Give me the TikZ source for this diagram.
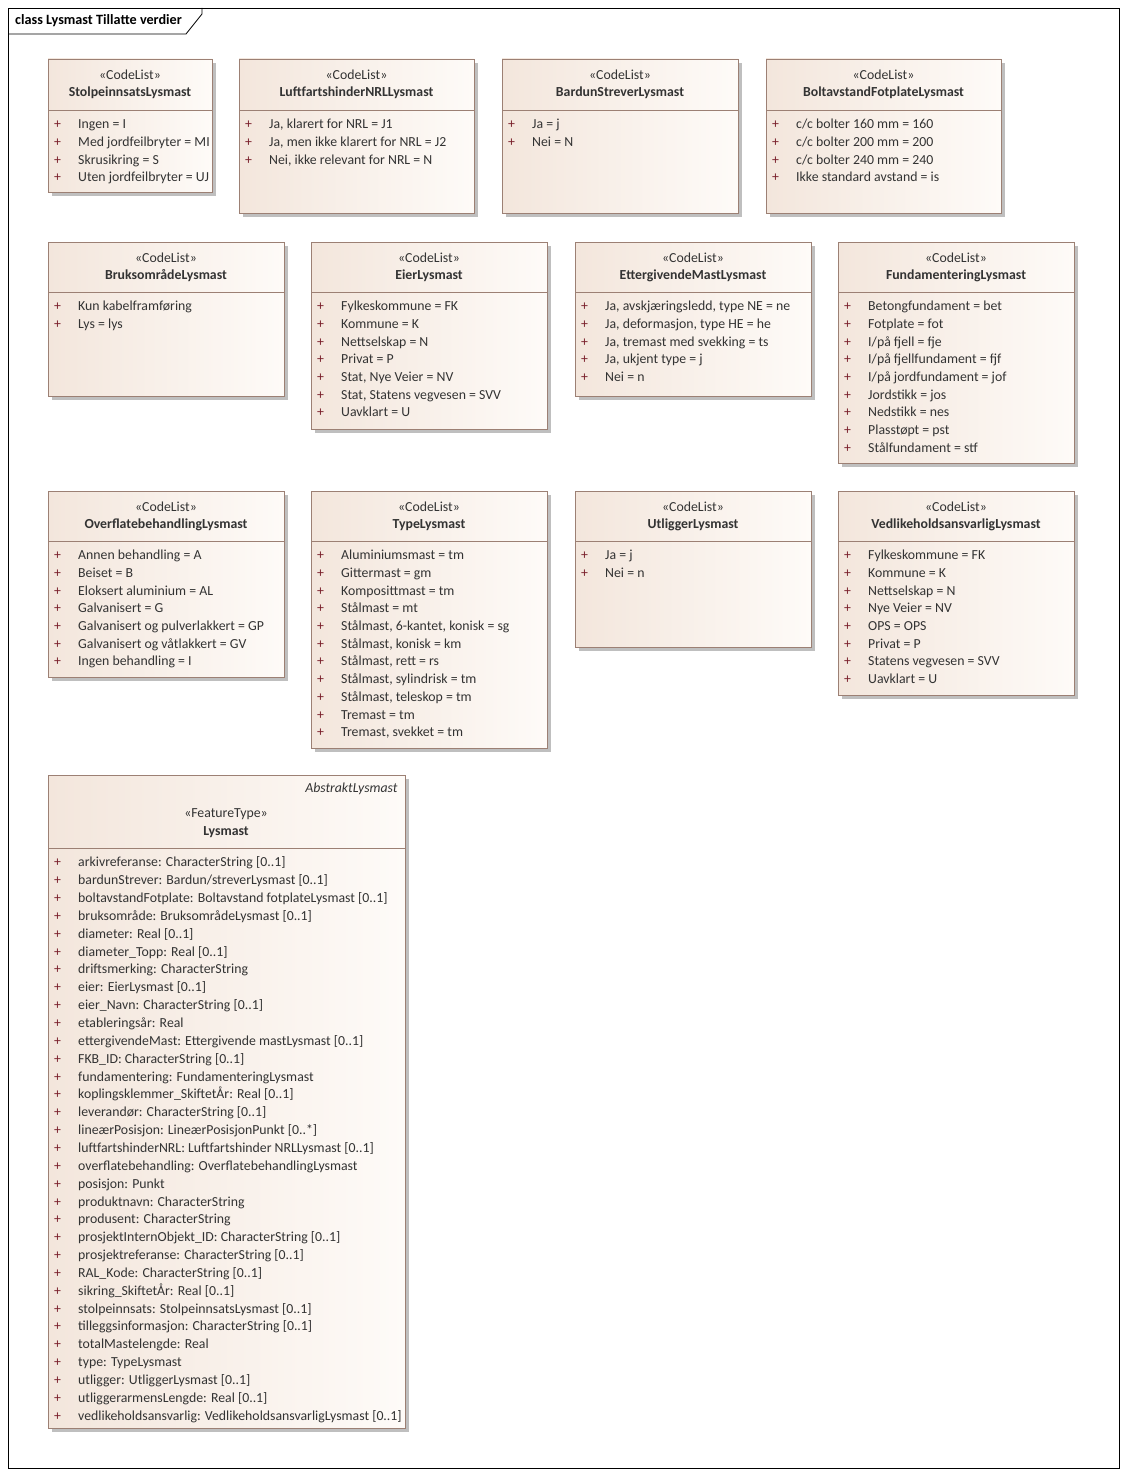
\documentclass[tikz,border=0pt]{standalone}
\usepackage{fontspec}
\setmainfont{Carlito}
\definecolor{bdr}{HTML}{9C8074}
\definecolor{fillA}{HTML}{F3E6DC}
\definecolor{fillB}{HTML}{FEFBF8}
\definecolor{txt}{HTML}{333333}
\definecolor{plus}{HTML}{7A1F2B}
\newcommand{\fs}{\fontsize{13.8}{16}\selectfont}
\newcommand{\cls}[8]{%
 \fill[black!25] (#1+4,#2+4) rectangle (#1+#3+4,#2+#4+4);
 \path[left color=fillA,right color=fillB,draw=bdr,line width=0.9pt] (#1,#2) rectangle (#1+#3,#2+#4);
 \node[name=#7] at (#1+#3/2,#2+#4/2) {};
 \draw[bdr,line width=0.9pt] (#1,#2+#8) -- (#1+#3,#2+#8);
 \node[txt,font=\fs] at (#1+#3/2,#2+16) {«CodeList»};
 \node[txt,font=\fs\bfseries] at (#1+#3/2,#2+34) {#5};
 \foreach \t [count=\i] in {#6}{
   \node[plus,anchor=base west,font=\fs,inner sep=0] at (#1+6,#2+#8+17.7*\i+1) {+};
   \node[txt,anchor=base west,font=\fs,inner sep=0] at (#1+30,#2+#8+17.7*\i+1) {\t};
 }}
\begin{document}
\begin{tikzpicture}[x=1pt,y=-1pt]
\useasboundingbox[fill=white] (0,0) rectangle (1127,1477);
\draw[line width=0.8pt] (8,8) rectangle (1119,1468);
\draw[line width=0.8pt] (8,34) -- (186,34) -- (202,14) -- (202,8);
\node[anchor=base west,font=\fontsize{14.2}{16}\selectfont\bfseries,inner sep=0] (ttl) at (15,25) {class Lysmast Tillatte verdier};

\cls{48}{59}{164}{133}{StolpeinnsatsLysmast}{{Ingen = I},{Med jordfeilbryter = MI},{Skrusikring = S},{Uten jordfeilbryter = UJ}}{c1}{51}
\cls{239}{59}{235}{154}{LuftfartshinderNRLLysmast}{{Ja, klarert for NRL = J1},{Ja, men ikke klarert for NRL = J2},{Nei, ikke relevant for NRL = N}}{c2}{51}
\cls{502}{59}{236}{154}{BardunStreverLysmast}{{Ja = j},{Nei = N}}{c3}{51}
\cls{766}{59}{235}{154}{BoltavstandFotplateLysmast}{{c/c bolter 160 mm = 160},{c/c bolter 200 mm = 200},{c/c bolter 240 mm = 240},{Ikke standard avstand = is}}{c4}{51}

\cls{48}{242}{236}{154}{BruksområdeLysmast}{{Kun kabelframføring},{Lys = lys}}{c5}{50}
\cls{311}{242}{236}{187}{EierLysmast}{{Fylkeskommune = FK},{Kommune = K},{Nettselskap = N},{Privat = P},{Stat, Nye Veier = NV},{Stat, Statens vegvesen = SVV},{Uavklart = U}}{c6}{50}
\cls{575}{242}{236}{154}{EttergivendeMastLysmast}{{Ja, avskjæringsledd, type NE = ne},{Ja, deformasjon, type HE = he},{Ja, tremast med svekking = ts},{Ja, ukjent type = j},{Nei = n}}{c7}{50}
\cls{838}{242}{236}{221}{FundamenteringLysmast}{{Betongfundament = bet},{Fotplate = fot},{I/på fjell = fje},{I/på fjellfundament = fjf},{I/på jordfundament = jof},{Jordstikk = jos},{Nedstikk = nes},{Plasstøpt = pst},{Stålfundament = stf}}{c8}{50}

\cls{48}{491}{236}{186}{OverflatebehandlingLysmast}{{Annen behandling = A},{Beiset = B},{Eloksert aluminium = AL},{Galvanisert = G},{Galvanisert og pulverlakkert = GP},{Galvanisert og våtlakkert = GV},{Ingen behandling = I}}{c9}{50}
\cls{311}{491}{236}{257}{TypeLysmast}{{Aluminiumsmast = tm},{Gittermast = gm},{Komposittmast = tm},{Stålmast = mt},{Stålmast, 6-kantet, konisk = sg},{Stålmast, konisk = km},{Stålmast, rett = rs},{Stålmast, sylindrisk = tm},{Stålmast, teleskop = tm},{Tremast = tm},{Tremast, svekket = tm}}{c10}{50}
\cls{575}{491}{236}{156}{UtliggerLysmast}{{Ja = j},{Nei = n}}{c11}{50}
\cls{838}{491}{236}{204}{VedlikeholdsansvarligLysmast}{{Fylkeskommune = FK},{Kommune = K},{Nettselskap = N},{Nye Veier = NV},{OPS = OPS},{Privat = P},{Statens vegvesen = SVV},{Uavklart = U}}{c12}{50}

\fill[black!25] (52,779) rectangle (409,1432);
\path[left color=fillA,right color=fillB,draw=bdr,line width=0.9pt] (48,775) rectangle (405,1428);
\node (lys) at (226,1100) {};
\draw[bdr,line width=0.9pt] (48,848) -- (405,848);
\node[txt,anchor=east,font=\fs\itshape] at (401,789) {AbstraktLysmast};
\node[txt,font=\fs] at (226,814) {«FeatureType»};
\node[txt,font=\fs\bfseries] at (226,832) {Lysmast};
\foreach \t [count=\i] in {{arkivreferanse: CharacterString [0..1]},{bardunStrever: Bardun/streverLysmast [0..1]},{boltavstandFotplate: Boltavstand fotplateLysmast [0..1]},{bruksområde: BruksområdeLysmast [0..1]},{diameter: Real [0..1]},{diameter\_Topp: Real [0..1]},{driftsmerking: CharacterString},{eier: EierLysmast [0..1]},{eier\_Navn: CharacterString [0..1]},{etableringsår: Real},{ettergivendeMast: Ettergivende mastLysmast [0..1]},{FKB\_ID: CharacterString [0..1]},{fundamentering: FundamenteringLysmast},{koplingsklemmer\_SkiftetÅr: Real [0..1]},{leverandør: CharacterString [0..1]},{lineærPosisjon: LineærPosisjonPunkt [0..*]},{luftfartshinderNRL: Luftfartshinder NRLLysmast [0..1]},{overflatebehandling: OverflatebehandlingLysmast},{posisjon: Punkt},{produktnavn: CharacterString},{produsent: CharacterString},{prosjektInternObjekt\_ID: CharacterString [0..1]},{prosjektreferanse: CharacterString [0..1]},{RAL\_Kode: CharacterString [0..1]},{sikring\_SkiftetÅr: Real [0..1]},{stolpeinnsats: StolpeinnsatsLysmast [0..1]},{tilleggsinformasjon: CharacterString [0..1]},{totalMastelengde: Real},{type: TypeLysmast},{utligger: UtliggerLysmast [0..1]},{utliggerarmensLengde: Real [0..1]},{vedlikeholdsansvarlig: VedlikeholdsansvarligLysmast [0..1]}}{
  \node[plus,anchor=base west,font=\fs,inner sep=0] at (54,848+17.85*\i+1) {+};
  \node[txt,anchor=base west,font=\fs,inner sep=0] at (78,848+17.85*\i+1) {\t};
}
\end{tikzpicture}
\end{document}
